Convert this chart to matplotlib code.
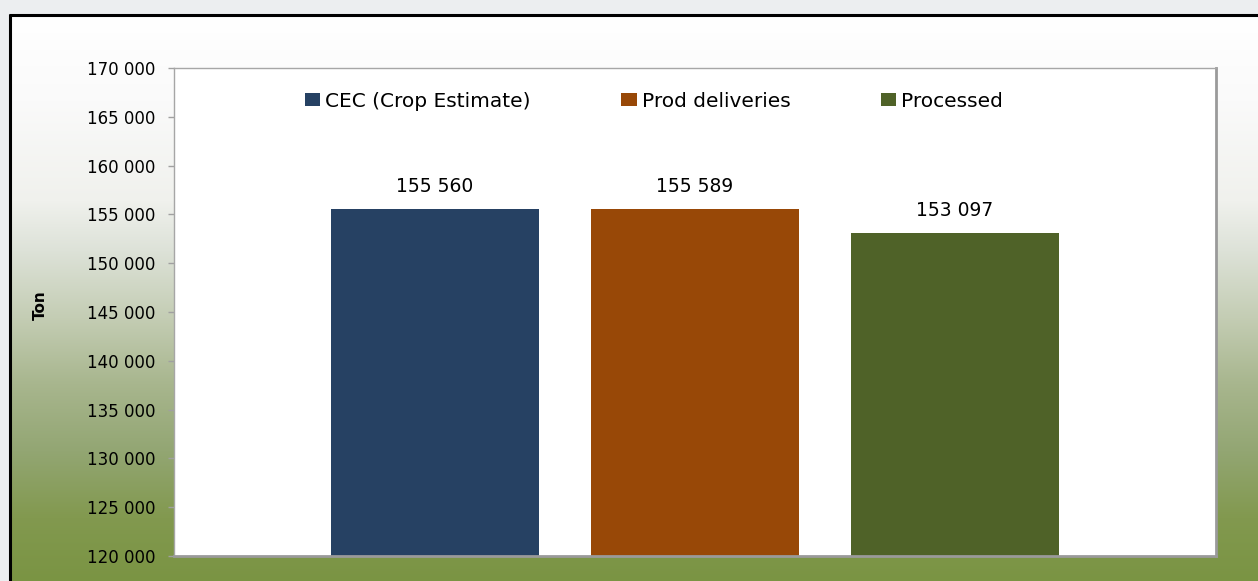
import numpy as np
import matplotlib
matplotlib.use("Agg")
import matplotlib.pyplot as plt
from matplotlib.colors import to_rgb
from matplotlib.patches import Patch
from matplotlib.ticker import FuncFormatter

# data
series = ["CEC (Crop Estimate)", "Prod deliveries", "Processed"]
values = [155560, 155589, 153097]
value_labels = ["155 560", "155 589", "153 097"]
colors = ["#264163", "#984807", "#4f6228"]
y_min, y_max, y_step = 120000, 170000, 5000

W, H = 1258, 581
fig = plt.figure(figsize=(W / 100, H / 100), dpi=100)

# background: light page, panel with white -> green vertical gradient
bg = fig.add_axes([0, 0, 1, 1])
bg.axis("off")
img = np.ones((H, W, 3)) * np.array(to_rgb("#eceef0"))
stops_y = [15, 100, 200, 250, 317, 383, 450, 517, 581]
stops_c = ["#ffffff", "#fafafa", "#f0f1ed", "#dde2d8", "#c4cdb4",
           "#a8b68e", "#93a673", "#82994f", "#7a9443"]
rows = np.arange(H)
grad = np.stack([np.interp(rows, stops_y, [to_rgb(c)[k] for c in stops_c])
                 for k in range(3)], axis=1)
img[15:, 10:, :] = grad[15:, None, :]
bg.imshow(img, aspect="auto", extent=(0, W, H, 0), interpolation="bilinear")
bg.plot([10, 10], [14, H], color="black", lw=2.2, solid_capstyle="butt")
bg.plot([9, W], [14.5, 14.5], color="black", lw=2.2, solid_capstyle="butt")
bg.set_xlim(0, W)
bg.set_ylim(H, 0)

# main chart
ax = fig.add_axes([174 / W, 25 / H, 1042 / W, 488 / H])
ax.set_facecolor("white")
x = np.arange(len(series)) - 1
bars = ax.bar(x, values, width=0.8, color=colors, zorder=2)
ax.set_xlim(-2.004, 2.004)
ax.set_ylim(y_min, y_max)
ax.set_yticks(np.arange(y_min, y_max + 1, y_step))
ax.yaxis.set_major_formatter(FuncFormatter(lambda v, p: f"{int(v):,}".replace(",", " ")))
ax.set_xticks([])
ax.tick_params(axis="y", length=4.5, color="#a0a0a0", width=1, pad=9,
               labelsize=12, labelcolor="black")

for side in ["top", "left"]:
    ax.spines[side].set_color("#a6a6a6")
    ax.spines[side].set_linewidth(1)
for side in ["right", "bottom"]:
    ax.spines[side].set_color("#9a9a9a")
    ax.spines[side].set_linewidth(2)

ax.bar_label(bars, labels=value_labels, padding=9, fontsize=13.5)

fig.text(40 / W, 1 - 305 / H, "Ton", rotation=90, fontsize=11, fontweight="bold",
         ha="center", va="center")

handles = [Patch(facecolor=c, edgecolor="none") for c in colors]
ax.legend(handles, series, ncol=3, loc="center", bbox_to_anchor=(0.4607, 0.932),
          frameon=False, fontsize=14.5, handlelength=0.75, handleheight=0.55,
          handletextpad=0.25, columnspacing=4.5, borderpad=0)

fig.savefig("out.png", dpi=100)
